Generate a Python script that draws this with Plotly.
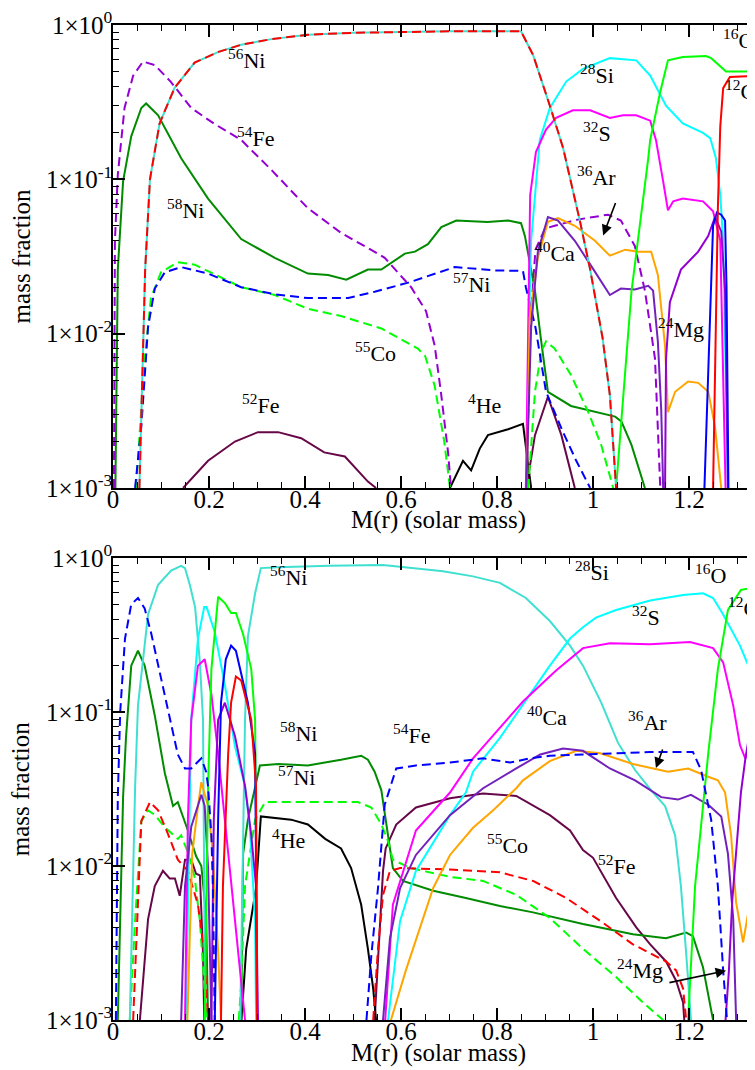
import numpy as np
import plotly.graph_objects as go
from plotly.subplots import make_subplots

# ---------------- colours (xmgrace palette) ----------------
RED = "#FF0000"; GREEN = "#00FF00"; BLUE = "#0000FF"; VIOLET = "#9400D3"
CYAN = "#00FFFF"; MAGENTA = "#FF00FF"; ORANGE = "#FFA500"; INDIGO = "#7221BC"
MAROON = "#670748"; TURQ = "#40E0D0"; GREEN4 = "#008B00"; BLACK = "#000000"

# ---------------- TOP PANEL data: M(r) [solar mass], mass fraction ----------------
t_ni56_x = [0.055, 0.0625, 0.067, 0.077, 0.097, 0.128, 0.17, 0.22, 0.267, 0.33, 0.406, 0.5, 0.573, 0.7, 0.85, 0.875, 0.91, 0.9375, 0.973, 0.994, 1.02, 1.035, 1.048]
t_ni56_y = [1e-3, 1e-2, 0.026, 0.1, 0.23, 0.39, 0.57, 0.67, 0.745, 0.81, 0.865, 0.89, 0.9, 0.91, 0.91, 0.64, 0.30, 0.16, 0.053, 0.026, 0.0093, 0.004, 1e-3]

t_fe54_x = [0.002, 0.004, 0.01, 0.024, 0.042, 0.0625, 0.087, 0.12, 0.163, 0.21, 0.267, 0.33, 0.406, 0.475, 0.53, 0.566, 0.621, 0.652, 0.67, 0.683, 0.698, 0.704, None, 0.862, 0.868, 0.88, 0.9, 0.92, 0.97, 1.031, 1.058, 1.087, 1.108, 1.129, 1.14]
t_fe54_y = [1e-3, 0.04, 0.107, 0.29, 0.47, 0.58, 0.55, 0.43, 0.29, 0.23, 0.18, 0.115, 0.065, 0.045, 0.036, 0.031, 0.020, 0.014, 0.0084, 0.0042, 0.0017, 1e-3, None, 1e-3, 0.01, 0.035, 0.048, 0.05, 0.055, 0.059, 0.054, 0.037, 0.019, 0.0069, 1e-3]

t_ni58_x = [0.005, 0.01, 0.021, 0.038, 0.059, 0.069, 0.094, 0.142, 0.198, 0.267, 0.337, 0.406, 0.448, 0.486, 0.531, 0.559, 0.608, 0.629, 0.656, 0.684, 0.715, 0.78, 0.823, 0.85, 0.858, 0.879, 0.892, 0.906, 0.954, 1.004, 1.046, 1.059, 1.08, 1.108]
t_ni58_y = [1e-3, 0.026, 0.097, 0.19, 0.29, 0.31, 0.26, 0.137, 0.075, 0.041, 0.031, 0.0245, 0.024, 0.0224, 0.026, 0.026, 0.033, 0.034, 0.038, 0.049, 0.054, 0.053, 0.054, 0.052, 0.043, 0.019, 0.0089, 0.0042, 0.0034, 0.0031, 0.0029, 0.0027, 0.0019, 1e-3]

t_ni57_x = [0.046, 0.059, 0.073, 0.087, 0.108, 0.142, 0.198, 0.267, 0.337, 0.406, 0.49, 0.545, 0.615, 0.712, 0.795, 0.854, 0.86, 0.88, 0.902, 0.9375, 0.965, 0.994]
t_ni57_y = [1e-3, 0.0025, 0.011, 0.0196, 0.025, 0.027, 0.0245, 0.020, 0.018, 0.017, 0.017, 0.0187, 0.0214, 0.027, 0.0257, 0.0255, 0.020, 0.011, 0.0042, 0.0023, 0.0015, 1e-3]

t_co55_x = [0.048, 0.066, 0.079, 0.1, 0.135, 0.17, 0.267, 0.337, 0.406, 0.475, 0.559, 0.608, 0.635, 0.65, 0.67, 0.69, 0.702, None, 0.865, 0.879, 0.892, 0.902, 0.92, 0.954, 0.99, 1.017, 1.042]
t_co55_y = [1e-3, 0.0069, 0.017, 0.025, 0.029, 0.028, 0.020, 0.0178, 0.0145, 0.013, 0.0108, 0.0089, 0.008, 0.0072, 0.0046, 0.002, 1e-3, None, 1e-3, 0.0042, 0.0076, 0.0089, 0.008, 0.0054, 0.0031, 0.0019, 1e-3]

t_fe52_x = [0.146, 0.198, 0.254, 0.302, 0.344, 0.392, 0.44, 0.483, 0.531, 0.548, None, 0.861, 0.879, 0.906, 0.934, 0.962]
t_fe52_y = [1e-3, 0.0015, 0.002, 0.0023, 0.0023, 0.0021, 0.0017, 0.0016, 0.0011, 1e-3, None, 1e-3, 0.0022, 0.0039, 0.0022, 1e-3]

t_he4_x = [0.702, 0.729, 0.746, 0.764, 0.781, 0.823, 0.854, 0.86, 0.871]
t_he4_y = [1e-3, 0.0015, 0.0013, 0.0018, 0.0022, 0.0024, 0.0026, 0.0019, 1e-3]

t_si28_x = [0.862, 0.866, 0.871, 0.889, 0.91, 0.944, 0.979, 1.035, 1.09, 1.119, 1.152, 1.187, 1.229, 1.244, 1.256, 1.265, 1.271, 1.281]
t_si28_y = [1e-3, 0.01, 0.04, 0.18, 0.29, 0.43, 0.52, 0.61, 0.59, 0.47, 0.30, 0.23, 0.2, 0.185, 0.137, 0.079, 0.04, 1e-3]

t_s32_x = [0.86, 0.864, 0.869, 0.881, 0.902, 0.923, 0.958, 0.994, 1.035, 1.0625, 1.09, 1.119, 1.131, 1.146, 1.156, 1.167, 1.187, 1.229, 1.25, 1.265, 1.276]
t_s32_y = [1e-3, 0.01, 0.079, 0.15, 0.21, 0.25, 0.28, 0.28, 0.25, 0.26, 0.26, 0.24, 0.18, 0.097, 0.063, 0.072, 0.075, 0.072, 0.062, 0.04, 1e-3]

t_ar36_x = [0.862, 0.868, 0.885, 0.906, 0.927, 0.962, 1.004, 1.035, 1.067, 1.094, 1.121, 1.135, 1.15, 1.156, 1.171, 1.198, 1.219, 1.24, 1.254, 1.267]
t_ar36_y = [1e-3, 0.0126, 0.031, 0.053, 0.056, 0.05, 0.04, 0.032, 0.035, 0.034, 0.034, 0.024, 0.0083, 0.0031, 0.0042, 0.0049, 0.0048, 0.0042, 0.0025, 1e-3]

t_ca40_x = [0.861, 0.871, 0.885, 0.906, 0.927, 0.962, 0.996, 1.035, 1.058, 1.087, 1.115, 1.125, 1.135, 1.142, 1.146]
t_ca40_y = [1e-3, 0.011, 0.034, 0.057, 0.054, 0.04, 0.0275, 0.0178, 0.0196, 0.0193, 0.0204, 0.019, 0.0089, 0.0032, 1e-3]

t_mg24_x = [1.15, 1.152, 1.16, 1.183, 1.219, 1.24, 1.254, 1.267, 1.275, 1.281]
t_mg24_y = [1e-3, 0.0069, 0.016, 0.026, 0.034, 0.043, 0.057, 0.046, 0.019, 1e-3]

t_o16_x = [1.048, 1.08, 1.115, 1.119, 1.14, 1.156, 1.187, 1.235, 1.246, 1.277, 1.354]
t_o16_y = [1e-3, 0.0187, 0.137, 0.18, 0.37, 0.59, 0.62, 0.63, 0.61, 0.50, 0.5]

t_c12_x = [1.25, 1.256, 1.26, 1.265, 1.271, 1.285, 1.354]
t_c12_y = [1e-3, 0.01, 0.065, 0.22, 0.39, 0.46, 0.47]

t_ne20_x = [1.232, 1.243, 1.25, 1.258, 1.267, 1.275, 1.278, 1.282]
t_ne20_y = [1e-3, 0.01, 0.05, 0.061, 0.059, 0.054, 0.02, 1e-3]

# ---------------- BOTTOM PANEL data ----------------
b_ni56_x = [0.035, 0.046, 0.052, 0.073, 0.094, 0.121, 0.142, 0.15, 0.16, 0.171, 0.181, 0.1875, 0.192, None, 0.265, 0.271, 0.275, 0.281, 0.296, 0.308, 0.344, 0.45, 0.5625, 0.6875, 0.75, 0.806, 0.86, 0.91, 0.952, 0.979, 1.017, 1.052, 1.0875, 1.121, 1.15, 1.171, 1.183, 1.194, 1.204]
b_ni56_y = [1e-3, 0.032, 0.11, 0.43, 0.67, 0.83, 0.89, 0.86, 0.67, 0.48, 0.21, 0.089, 1e-3, None, 1e-3, 0.012, 0.089, 0.31, 0.59, 0.86, 0.87, 0.89, 0.9, 0.82, 0.76, 0.69, 0.55, 0.39, 0.27, 0.2, 0.115, 0.063, 0.042, 0.031, 0.0245, 0.0158, 0.0074, 0.0027, 1e-3]

b_fe54_x = [0.006, 0.01, 0.015, 0.025, 0.038, 0.052, 0.066, 0.08, 0.1, 0.121, 0.135, 0.15, 0.163, 0.184, 0.194, 0.198, 0.205, 0.208, 0.212, None, 0.528, 0.538, 0.552, 0.566, 0.59, 0.631, 0.702, 0.771, 0.827, 0.869, 0.91, 0.979, 1.048, 1.119, 1.208, 1.225, 1.246, 1.26, 1.271, 1.279]
b_fe54_y = [1e-3, 0.028, 0.1, 0.30, 0.5, 0.55, 0.47, 0.32, 0.166, 0.083, 0.053, 0.043, 0.043, 0.05, 0.041, 0.033, 0.0158, 0.0074, 1e-3, None, 1e-3, 0.0026, 0.0072, 0.025, 0.043, 0.045, 0.047, 0.05, 0.047, 0.05, 0.052, 0.053, 0.054, 0.055, 0.055, 0.042, 0.02, 0.0074, 0.0021, 1e-3]

b_ni58_x = [0.01, 0.021, 0.027, 0.038, 0.052, 0.066, 0.087, 0.108, 0.125, 0.135, 0.156, 0.173, 0.184, 0.194, 0.198, None, 0.267, 0.271, 0.281, 0.296, 0.306, 0.344, 0.406, 0.475, 0.517, 0.531, 0.545, 0.559, 0.5625, 0.573, 0.583, 0.604, 0.667, 0.735, 0.806, 0.875, 0.979, 1.083, 1.152, 1.194, 1.208, 1.229, 1.25]
b_ni58_y = [1e-3, 0.028, 0.068, 0.2, 0.25, 0.2, 0.095, 0.04, 0.0245, 0.026, 0.017, 0.0116, 0.010, 0.0048, 1e-3, None, 1e-3, 0.012, 0.02, 0.033, 0.045, 0.046, 0.045, 0.049, 0.052, 0.049, 0.041, 0.031, 0.026, 0.015, 0.0097, 0.0080, 0.0069, 0.0062, 0.0055, 0.005, 0.0042, 0.0036, 0.0034, 0.0037, 0.0035, 0.0022, 1e-3]

b_ni57_x = [0.035, 0.046, 0.059, 0.073, 0.087, 0.108, 0.135, 0.142, 0.155, 0.17, 0.181, 0.191, 0.195, None, 0.262, 0.267, 0.275, 0.296, 0.317, 0.35, 0.45, 0.51, 0.538, 0.559, 0.573, 0.583, 0.619, 0.702, 0.771, 0.84, 0.91, 0.979, 1.048, 1.104, 1.146]
b_ni57_y = [1e-3, 0.0044, 0.0196, 0.023, 0.0215, 0.0178, 0.015, 0.0158, 0.0125, 0.0085, 0.0044, 0.0016, 1e-3, None, 1e-3, 0.0017, 0.0074, 0.02, 0.026, 0.026, 0.026, 0.026, 0.024, 0.0186, 0.0145, 0.011, 0.0097, 0.0085, 0.0080, 0.0065, 0.0046, 0.0029, 0.0019, 0.0013, 1e-3]

b_co55_x = [0.042, 0.059, 0.077, 0.094, 0.115, 0.135, 0.156, 0.177, 0.191, 0.198, None, 0.542, 0.552, 0.5625, 0.573, 0.577, 0.598, 0.702, 0.806, 0.875, 0.944, 1.015, 1.083, 1.152, 1.173, 1.1875, 1.194]
b_co55_y = [1e-3, 0.0196, 0.026, 0.023, 0.016, 0.011, 0.0093, 0.0056, 0.0026, 1e-3, None, 1e-3, 0.0029, 0.0065, 0.0083, 0.0093, 0.0097, 0.0095, 0.0091, 0.008, 0.0062, 0.0044, 0.0031, 0.0024, 0.0021, 0.0016, 1e-3]

b_fe52_x = [0.056, 0.073, 0.087, 0.104, 0.118, 0.129, 0.139, 0.15, 0.163, 0.173, 0.181, 0.1875, 0.19, None, 0.545, 0.556, 0.5625, 0.568, 0.59, 0.631, 0.702, 0.771, 0.84, 0.91, 0.952, 0.979, 1.0, 1.048, 1.09, 1.119, 1.152, 1.173, 1.1875, 1.19]
b_fe52_y = [1e-3, 0.0045, 0.0074, 0.0093, 0.0083, 0.0083, 0.0064, 0.011, 0.011, 0.0089, 0.0087, 0.0027, 1e-3, None, 1e-3, 0.004, 0.0093, 0.013, 0.0186, 0.024, 0.0275, 0.0296, 0.0285, 0.0214, 0.017, 0.0127, 0.0113, 0.0062, 0.0040, 0.0031, 0.0024, 0.0018, 0.0013, 1e-3]

b_he4_x = [0.2675, 0.2775, 0.298, 0.308, 0.371, 0.406, 0.442, 0.475, 0.496, 0.517, 0.531, 0.542, 0.548]
b_he4_y = [1e-3, 0.0029, 0.0072, 0.021, 0.02, 0.0186, 0.015, 0.013, 0.0097, 0.0056, 0.0029, 0.0016, 1e-3]

b_si28_x = [0.152, 0.163, 0.177, 0.19, 0.195, 0.212, 0.233, 0.254, 0.275, 0.285, 0.296, 0.298, None, 0.573, 0.598, 0.631, 0.702, 0.735, 0.75, 0.806, 0.854, 0.91, 0.952, 0.979, 1.006, 1.048, 1.119, 1.1875, 1.229, 1.25, 1.271, 1.306, 1.333, 1.354]
b_si28_y = [1e-3, 0.09, 0.3, 0.48, 0.48, 0.33, 0.15, 0.06, 0.033, 0.018, 0.0045, 1e-3, None, 1e-3, 0.0044, 0.0093, 0.0214, 0.03, 0.041, 0.068, 0.111, 0.2, 0.30, 0.355, 0.41, 0.46, 0.53, 0.575, 0.59, 0.55, 0.43, 0.27, 0.17, 0.123]

b_s32_x = [0.15, 0.156, 0.163, 0.177, 0.191, 0.205, 0.219, 0.24, 0.254, 0.275, None, 0.567, 0.583, 0.631, 0.702, 0.75, 0.806, 0.854, 0.923, 0.979, 1.035, 1.119, 1.202, 1.25, 1.271, 1.292, 1.306, 1.317, 1.333, 1.354]
b_s32_y = [1e-3, 0.02, 0.089, 0.2, 0.22, 0.13, 0.054, 0.012, 0.0045, 1e-3, None, 1e-3, 0.0056, 0.017, 0.03, 0.05, 0.079, 0.117, 0.186, 0.26, 0.28, 0.275, 0.285, 0.26, 0.21, 0.11, 0.061, 0.05, 0.068, 0.075]

b_ar36_x = [0.155, 0.165, 0.177, 0.184, 0.198, 0.208, 0.219, 0.225, None, 0.579, 0.61, 0.667, 0.702, 0.75, 0.792, 0.84, 0.854, 0.91, 0.965, 1.015, 1.083, 1.156, 1.198, 1.24, 1.26, 1.275, 1.2875, 1.298, 1.3125, 1.327, 1.34, 1.354]
b_ar36_y = [1e-3, 0.012, 0.0245, 0.035, 0.0245, 0.012, 0.0028, 1e-3, None, 1e-3, 0.0021, 0.0072, 0.0118, 0.0177, 0.023, 0.032, 0.036, 0.048, 0.056, 0.054, 0.046, 0.041, 0.043, 0.038, 0.036, 0.03, 0.0158, 0.0058, 0.0032, 0.0058, 0.0094, 0.0105]

b_ca40_x = [0.142, 0.15, 0.163, 0.184, 0.191, 0.198, 0.205, None, 0.5625, 0.577, 0.598, 0.631, 0.702, 0.771, 0.84, 0.89, 0.9375, 0.979, 1.035, 1.0875, 1.142, 1.177, 1.204, 1.24, 1.267, 1.281, 1.292, 1.298]
b_ca40_y = [1e-3, 0.0074, 0.018, 0.029, 0.0245, 0.0098, 1e-3, None, 1e-3, 0.0034, 0.0072, 0.0118, 0.0214, 0.032, 0.043, 0.053, 0.058, 0.056, 0.043, 0.036, 0.028, 0.027, 0.029, 0.025, 0.021, 0.012, 0.0045, 1e-3]

b_mg24_x = [0.205, 0.21, 0.219, 0.233, 0.254, 0.275, 0.288, 0.298, 0.302, None, 1.276, 1.283, 1.29, 1.3, 1.308, 1.317, 1.327, 1.34, 1.354]
b_mg24_y = [1e-3, 0.02, 0.089, 0.115, 0.07, 0.033, 0.0158, 0.0074, 1e-3, None, 1e-3, 0.0021, 0.006, 0.015, 0.03, 0.049, 0.076, 0.089, 0.1]

b_o16_x = [0.191, 0.198, 0.205, 0.219, 0.233, 0.246, 0.256, 0.271, 0.288, 0.296, 0.298, 0.3, None, 1.198, 1.2125, 1.24, 1.26, 1.281, 1.308, 1.354]
b_o16_y = [1e-3, 0.033, 0.19, 0.56, 0.51, 0.44, 0.44, 0.32, 0.19, 0.089, 0.02, 1e-3, None, 1e-3, 0.0074, 0.054, 0.19, 0.46, 0.62, 0.66]

b_ne20_x = [0.212, 0.219, 0.225, 0.235, 0.246, 0.256, 0.281, 0.296, 0.298, 0.3]
b_ne20_y = [1e-3, 0.02, 0.115, 0.22, 0.27, 0.25, 0.115, 0.054, 0.01, 1e-3]

b_c12_x = [0.225, 0.229, 0.24, 0.246, 0.256, 0.267, 0.288, 0.298, 0.3, None, 1.348, 1.354]
b_c12_y = [1e-3, 0.0074, 0.054, 0.115, 0.17, 0.16, 0.089, 0.033, 1e-3, None, 1e-3, 0.004]

# ---------------- labels (mass number, element, left edge M(r), mass fraction at centre) ----------------
top_labels = [("56", "Ni", 0.256, 0.526), ("54", "Fe", 0.275, 0.164), ("58", "Ni", 0.129, 0.0566),
              ("28", "Si", 0.99, 0.42), ("32", "S", 0.996, 0.177), ("36", "Ar", 0.983, 0.0914),
              ("40", "Ca", 0.896, 0.0295), ("16", "O", 1.2875, 0.71), ("12", "C", 1.292, 0.331),
              ("57", "Ni", 0.725, 0.0187), ("55", "Co", 0.521, 0.00668), ("52", "Fe", 0.285, 0.00307),
              ("4", "He", 0.756, 0.00307), ("24", "Mg", 1.152, 0.00955)]
bot_labels = [("56", "Ni", 0.344, 0.668), ("58", "Ni", 0.365, 0.0649), ("57", "Ni", 0.36, 0.0336),
              ("4", "He", 0.348, 0.0131), ("54", "Fe", 0.6, 0.0631), ("28", "Si", 0.979, 0.72),
              ("16", "O", 1.229, 0.689), ("12", "C", 1.298, 0.42), ("32", "S", 1.098, 0.367),
              ("40", "Ca", 0.879, 0.0824), ("36", "Ar", 1.09, 0.0764), ("55", "Co", 0.796, 0.0121),
              ("52", "Fe", 1.027, 0.00887), ("24", "Mg", 1.067, 0.00187)]
# arrows: (panel, tail x, tail y, head x, head y)
arrows = [(1, 1.048, 0.0719, 1.021, 0.0433), (2, 1.146, 0.0584, 1.131, 0.0433), (2, 1.156, 0.00174, 1.277, 0.00209)]

XMAX = 1.354
SERIF = "'Liberation Serif', 'Times New Roman', Times, serif"
LABEL_LIFT = 0.058    # decades: compensates superscript box offset
LABEL_SHIFT = -0.019  # solar masses: compensates superscript box offset

fig = make_subplots(rows=2, cols=1)

def add(row, x, y, color, dashed=False):
    fig.add_trace(go.Scatter(x=x, y=y, mode="lines", showlegend=False, hoverinfo="skip",
                             line=dict(color=color, width=2, dash="9px,5px" if dashed else "solid")),
                  row=row, col=1)

# top panel
add(1, t_fe52_x, t_fe52_y, MAROON)
add(1, t_he4_x, t_he4_y, BLACK)
add(1, t_ni58_x, t_ni58_y, GREEN4)
add(1, t_co55_x, t_co55_y, GREEN, True)
add(1, t_ni57_x, t_ni57_y, BLUE, True)
add(1, t_fe54_x, t_fe54_y, VIOLET, True)
add(1, t_si28_x, t_si28_y, CYAN)
add(1, t_s32_x, t_s32_y, MAGENTA)
add(1, t_ar36_x, t_ar36_y, ORANGE)
add(1, t_ca40_x, t_ca40_y, INDIGO)
add(1, t_mg24_x, t_mg24_y, VIOLET)
add(1, t_o16_x, t_o16_y, GREEN)
add(1, t_ne20_x, t_ne20_y, BLUE)
add(1, t_c12_x, t_c12_y, RED)
add(1, t_ni56_x, t_ni56_y, TURQ)
add(1, t_ni56_x, t_ni56_y, RED, True)

# bottom panel
add(2, b_fe52_x, b_fe52_y, MAROON)
add(2, b_he4_x, b_he4_y, BLACK)
add(2, b_ni58_x, b_ni58_y, GREEN4)
add(2, b_ni57_x, b_ni57_y, GREEN, True)
add(2, b_co55_x, b_co55_y, RED, True)
add(2, b_ni56_x, b_ni56_y, TURQ)
add(2, b_si28_x, b_si28_y, CYAN)
add(2, b_s32_x, b_s32_y, MAGENTA)
add(2, b_ar36_x, b_ar36_y, ORANGE)
add(2, b_ca40_x, b_ca40_y, INDIGO)
add(2, b_mg24_x, b_mg24_y, VIOLET)
add(2, b_o16_x, b_o16_y, GREEN)
add(2, b_ne20_x, b_ne20_y, BLUE)
add(2, b_c12_x, b_c12_y, RED)
add(2, b_fe54_x, b_fe54_y, BLUE, True)

yt = [1e-3, 1e-2, 1e-1, 1]
ytext = ["1×10<sup>-3</sup>", "1×10<sup>-2</sup>", "1×10<sup>-1</sup>", "1×10<sup>0</sup>"]
yminor = [m * 10.0 ** e for e in (-3, -2, -1) for m in range(2, 10)]

axis_common = dict(showline=True, linecolor="black", linewidth=1.5, mirror="ticks",
                   ticks="inside", tickcolor="black", tickwidth=1.5, ticklen=12,
                   ticklabeloverflow="allow",
                   showgrid=False, zeroline=False, tickfont=dict(family=SERIF, size=25, color="black"))

for i in (1, 2):
    fig.update_xaxes(range=[0, XMAX], tick0=0, dtick=0.2, ticklabelstandoff=-12,
                     minor=dict(dtick=0.05, tick0=0, ticks="inside", ticklen=6, tickwidth=1.2, tickcolor="black"),
                     **axis_common, row=i, col=1)
    fig.update_yaxes(type="log", range=[-3, 0], tickmode="array", tickvals=yt, ticktext=ytext,
                     ticklabelstandoff=-6,
                     minor=dict(tickmode="array", tickvals=yminor, ticks="inside", ticklen=6, tickwidth=1.2, tickcolor="black"),
                     **axis_common, row=i, col=1)

fig.update_layout(yaxis=dict(domain=[0.5347, 1.0]), yaxis2=dict(domain=[0.0, 0.4643]),
                  xaxis=dict(anchor="y"), xaxis2=dict(anchor="y2"))

ann = []
for panel, labels in ((1, top_labels), (2, bot_labels)):
    xr = "x" if panel == 1 else "x2"
    yr = "y" if panel == 1 else "y2"
    for sup, el, xv, yv in labels:
        ann.append(dict(text=f"<sup>{sup}</sup>{el}", x=xv + LABEL_SHIFT, y=float(np.log10(yv)) + LABEL_LIFT,
                        xref=xr, yref=yr, showarrow=False, font=dict(family=SERIF, size=22, color="black"),
                        xanchor="left", yanchor="middle", borderpad=0))
for panel, tx, ty, hx, hy in arrows:
    xr = "x" if panel == 1 else "x2"
    yr = "y" if panel == 1 else "y2"
    ann.append(dict(text="", x=hx, y=float(np.log10(hy)), ax=tx, ay=float(np.log10(ty)),
                    xref=xr, yref=yr, axref=xr, ayref=yr, showarrow=True,
                    arrowhead=2, arrowsize=1.3, arrowwidth=1.6, arrowcolor="black", standoff=0))

# axis titles
for yc in (0.7678, 0.2322):
    ann.append(dict(text="mass fraction", x=-0.141, y=yc, xref="paper", yref="paper", textangle=-90,
                    showarrow=False, font=dict(family=SERIF, size=25, color="black"),
                    xanchor="center", yanchor="middle"))
for yc in (0.5025, -0.0332):
    ann.append(dict(text="M(r) (solar mass)", x=0.5, y=yc, xref="paper", yref="paper",
                    showarrow=False, font=dict(family=SERIF, size=25, color="black"),
                    xanchor="center", yanchor="middle"))

fig.update_layout(annotations=ann, width=755, height=1070,
                  font=dict(family=SERIF),
                  margin=dict(l=105, r=0, t=17, b=58, autoexpand=False),
                  paper_bgcolor="white", plot_bgcolor="white", showlegend=False)

fig.write_html("out.html")
